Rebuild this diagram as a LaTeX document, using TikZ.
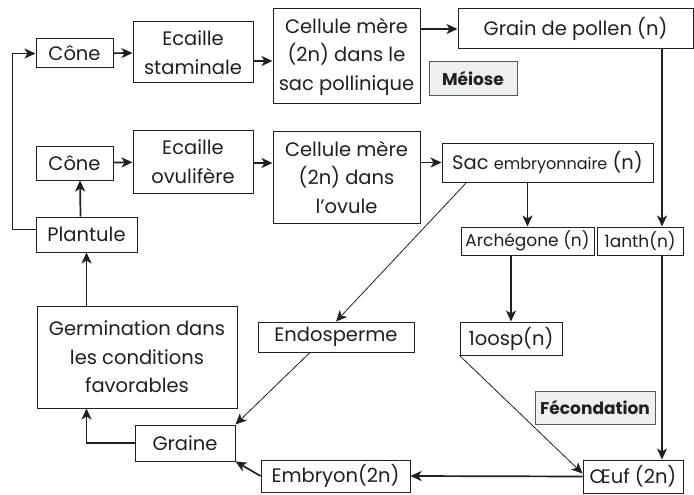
\documentclass[tikz,border=0pt]{standalone}
\usepackage{fontspec}
\setmainfont{Poppins}
\usetikzlibrary{arrows.meta, positioning, calc}
\definecolor{ink}{RGB}{35,31,32}
\definecolor{tagfill}{RGB}{238,239,241}
\tikzset{
  box/.style={rectangle, draw=ink, fill=white, line width=1pt,
    align=center, inner sep=0pt, text=ink,
    font=\fontsize{19.5}{28.5}\selectfont},
  smallbox/.style={box, font=\fontsize{17}{20}\selectfont},
  tag/.style={rectangle, draw=ink!75, fill=tagfill, line width=0.8pt,
    inner sep=0pt, text=ink, font=\fontsize{17}{20}\selectfont\bfseries},
  arrow/.style={-{Stealth[length=11pt,width=10pt,inset=3pt]}, line width=1.7pt, color=ink},
  thinarrow/.style={-{Stealth[length=11pt,width=10pt,inset=3pt]}, line width=0.8pt, color=ink}
}

\begin{document}
\begin{tikzpicture}[x=1pt, y=-1pt]
  \useasboundingbox (0,0) rectangle (694,495);

  % Male line
  \node[box, minimum width=77, minimum height=29] (cone1) at (74.5,53.5) {Cône};
  \node[box, minimum width=120, minimum height=61] (ecs) at (193,52.5) {Ecaille\\staminale};
  \node[box, minimum width=147, minimum height=95] (cmp) at (346.5,56.5) {Cellule mère\\(2n) dans le\\sac pollinique};
  \node[box, minimum width=235, minimum height=40] (pollen) at (575.5,29) {Grain de pollen (n)};
  \node[tag, minimum width=88, minimum height=34] (meiose) at (473,78) {Méiose};

  % Female line
  \node[box, minimum width=77, minimum height=34] (cone2) at (74.5,163) {Cône};
  \node[box, minimum width=120, minimum height=63] (eco) at (193,161.5) {Ecaille\\ovulifère};
  \node[box, minimum width=147, minimum height=92] (cmo) at (346.5,177) {Cellule mère\\(2n) dans\\l’ovule};
  \node[box, minimum width=211, minimum height=39] (sac) at (547.5,162.5) {Sac {\fontsize{16}{18}\selectfont embryonnaire} (n)};
  \node[smallbox, minimum width=133, minimum height=28] (arch) at (527.5,241) {Archégone (n)};
  \node[smallbox, minimum width=86, minimum height=28] (anth) at (640,241) {1anth(n)};
  \node[box, minimum width=102, minimum height=33] (oosp) at (511,338.5) {1oosp(n)};
  \node[tag, minimum width=120, minimum height=33] (fec) at (595,407.5) {Fécondation};

  % Seed and seedling
  \node[box, minimum width=101, minimum height=35] (plantule) at (86.5,234.5) {Plantule};
  \node[box, minimum width=200, minimum height=102] (germ) at (137,357) {Germination dans\\les conditions\\favorables};
  \node[box, minimum width=156, minimum height=30] (endo) at (336,337) {Endosperme};
  \node[box, minimum width=100, minimum height=36] (graine) at (185,443) {Graine};
  \node[box, minimum width=149, minimum height=32] (embryon) at (335.5,476) {Embryon(2n)};
  \node[box, minimum width=100, minimum height=33] (oeuf) at (633,476.5) {Œuf (2n)};

  \coordinate (ax) at (662,0);

  % Connectors
  \draw[arrow] (cone1) -- (ecs);
  \draw[arrow] ([yshift=-8.5pt]ecs.east) -- ([yshift=-8.5pt]ecs.east -| cmp.west);
  \draw[arrow] (cmp.east |- pollen) -- (pollen.west);
  \draw[arrow] (pollen.south -| ax) -- (anth.north -| ax);
  \draw[arrow] (anth.south -| ax) -- (oeuf.north -| ax);
  \draw[arrow] (cone2) -- (eco);
  \draw[arrow] (eco.east |- cone2) -- (cmo.west |- cone2);
  \draw[arrow] (cmo.east |- sac) -- (sac.west);
  \draw[arrow] (sac.south -| arch) -- (arch.north);
  \draw[arrow] (arch.south -| oosp) -- (oosp.north);
  \draw[thinarrow] ([xshift=-81pt]sac.south) -- (endo.north);
  \draw[thinarrow] (oosp.south west) -- ([yshift=3pt]oeuf.west);
  \draw[arrow] (oeuf.west) -- (embryon.east);
  \draw[arrow] (embryon.west) -- (graine.south east);
  \draw[thinarrow] ([xshift=-26pt]endo.south) -- (graine.north east);
  \draw[arrow] (graine.west) -| (germ.south -| plantule);
  \draw[arrow] (germ.north -| plantule) -- (plantule.south);
  \draw[arrow] ([xshift=-6pt]plantule.north) -- ([xshift=5.5pt]cone2.south);
  \draw[arrow] ([yshift=5pt]plantule.west) -- ++(-23,0) |- (cone1.west);

\end{tikzpicture}
\end{document}
